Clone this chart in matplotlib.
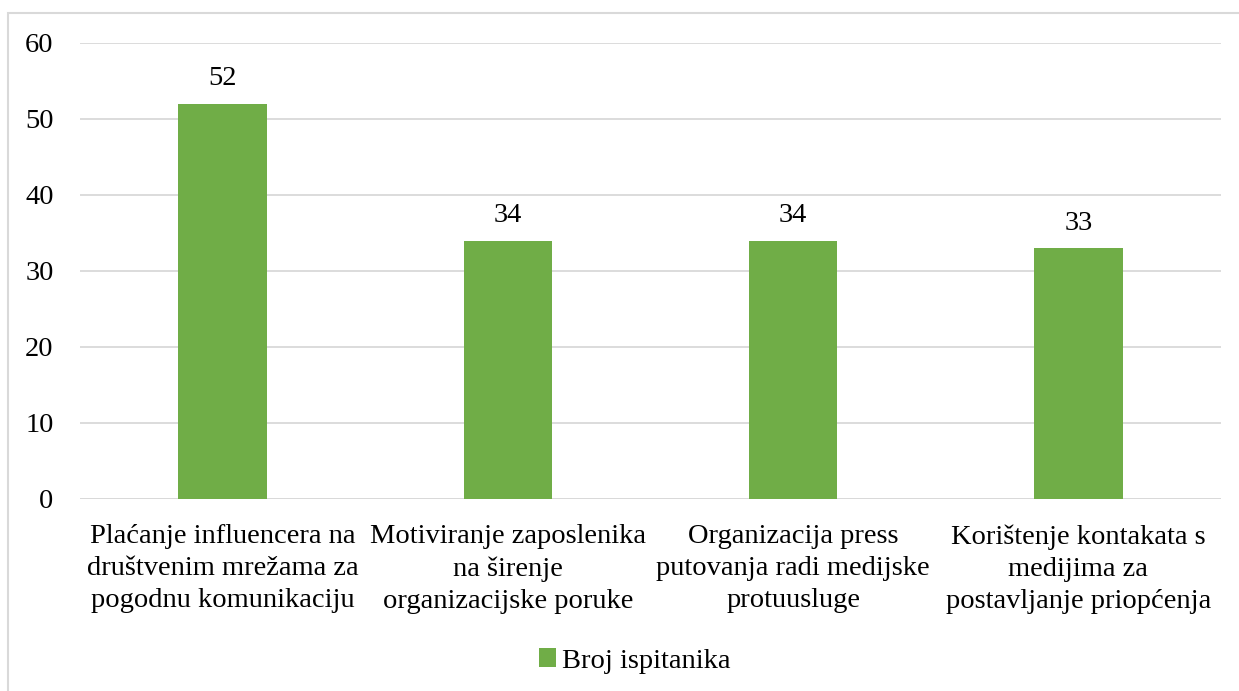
import matplotlib
matplotlib.use("Agg")
import matplotlib.pyplot as plt
from matplotlib.patches import Rectangle

categories = [
    "Plaćanje influencera na\ndruštvenim mrežama za\npogodnu komunikaciju",
    "Motiviranje zaposlenika\nna širenje\norganizacijske poruke",
    "Organizacija press\nputovanja radi medijske\nprotuusluge",
    "Korištenje kontakata s\nmedijima za\npostavljanje priopćenja",
]
values = [52, 34, 34, 33]
series_name = "Broj ispitanika"
yticks = [0, 10, 20, 30, 40, 50, 60]

plt.rcParams['font.family'] = ['Liberation Serif', 'DejaVu Serif']
W, H = 1239, 691
FS = 20.5
fig = plt.figure(figsize=(W/100, H/100), dpi=100)
ax = fig.add_axes([80/W, 1-499/H, (1221-80)/W, (499-43)/H])

green = '#70ad47'
x = list(range(len(categories)))
bars = ax.bar(x, values, width=0.31, color=green, label=series_name, zorder=3)
for xi, v in zip(x, values):
    ax.annotate(str(v), (xi, v), xytext=(0, 9), textcoords='offset points',
                ha='center', va='bottom', fontsize=FS)

ax.set_xlim(-0.5, len(categories)-0.5)
ax.set_ylim(0, 60)
ax.set_yticks(yticks)
ax.set_yticklabels([str(t) for t in yticks], fontsize=FS)
ax.set_xticks(x)
ax.set_xticklabels(categories, fontsize=FS, linespacing=1.38)
ax.tick_params(axis='both', length=0)
ax.tick_params(axis='y', pad=19)
ax.tick_params(axis='x', pad=18)
ax.grid(axis='y', color='#d9d9d9', linewidth=1.3, zorder=0)
for s in ax.spines.values():
    s.set_visible(False)
ax.axhline(0, color='#d9d9d9', linewidth=1.3, zorder=2)

leg = fig.legend(loc='center', bbox_to_anchor=(635/W, 1-661/H), frameon=False,
                 fontsize=FS, handlelength=0.6, handleheight=0.6, handletextpad=0.2)

fig.patches.append(Rectangle((8/W, -0.1), 1.2, 1-13/H+0.1, transform=fig.transFigure,
                             fill=False, edgecolor='#d9d9d9', linewidth=1.5))

fig.savefig('out.png', dpi=100, facecolor='white')
